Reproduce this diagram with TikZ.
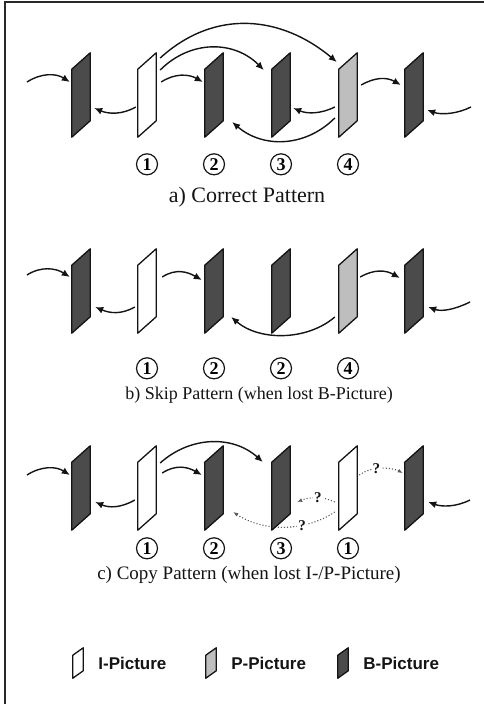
\documentclass[tikz,border=0pt]{standalone}
\usepackage{fontspec}
\setmainfont{Liberation Serif}
\newfontfamily\legendfont{Liberation Sans}
\usepackage{tikz}
\usepackage{xcolor}
\usetikzlibrary{arrows.meta, positioning, calc}
\definecolor{frameGray}{RGB}{40,40,40}
\definecolor{inkBlack}{RGB}{20,20,20}
\definecolor{bShade}{RGB}{75,75,75}
\definecolor{pShade}{RGB}{190,190,190}
\newcommand{\sheetpoly}[3]{%
    \draw[#2] (#1.north east) -- ([yshift=-#3]#1.north east) -- (#1.south west) -- ([yshift=#3]#1.south west) -- cycle;}
\tikzset{
    sheet/.style={
        rectangle,
        draw=none,
        inner sep=0pt,
        minimum width=18pt,
        minimum height=84pt
    },
    smallsheet/.style={
        rectangle,
        draw=none,
        inner sep=0pt,
        minimum width=10pt,
        minimum height=30pt
    },
    ifill/.style={draw=inkBlack, line width=1.3pt, line join=round, fill=white},
    pfill/.style={draw=inkBlack, line width=1.3pt, line join=round, fill=pShade},
    bfill/.style={draw=inkBlack, line width=1.3pt, line join=round, fill=bShade},
    numcircle/.style={
        circle,
        draw=inkBlack,
        line width=1.2pt,
        minimum size=21pt,
        inner sep=0pt,
        font=\fontsize{18}{18}\selectfont\bfseries
    },
    caption/.style={text=inkBlack, inner sep=0pt},
    legendtext/.style={inner sep=0pt, text=inkBlack, font=\legendfont\fontsize{17}{20}\selectfont\bfseries},
    flowarrow/.style={-{Latex[length=8pt, width=7pt]}, line width=1.4pt, draw=inkBlack},
    lostarrow/.style={-{Latex[length=5pt, width=4pt]}, dotted, line width=1.1pt, draw=inkBlack!70},
    qmark/.style={fill=white, inner sep=1pt, text=inkBlack, font=\fontsize{15}{15}\selectfont\bfseries}
}
\begin{document}
\begin{tikzpicture}[x=1pt, y=-1pt]
    \useasboundingbox (0,0) rectangle (484,704);
    \draw[line width=1.3pt, frameGray] (5,704) -- (5,2) -- (484,2);

    % a) correct pattern
    \node[sheet] (aB1) at (81,95) {};
    \node[sheet] (aI) at (147,95) {};
    \node[sheet] (aB2) at (214,95) {};
    \node[sheet] (aB3) at (281,95) {};
    \node[sheet] (aP) at (348,95) {};
    \node[sheet] (aB5) at (414,95) {};
    \coordinate (aInL) at (27,82);
    \coordinate (aInR) at (471,107);
    \draw[flowarrow] (aInL) .. controls +(14,-9) and +(-14,-9) .. ($(aB1.west)+(-2,-13)$);
    \draw[flowarrow] ($(aI.west)+(-2,12)$) .. controls +(-14,8) and +(14,6) .. ($(aB1.east)+(4,13)$);
    \draw[flowarrow] ($(aI.east)+(5,-13)$) .. controls +(14,-9) and +(-14,-8) .. ($(aB2.west)+(-2,-13)$);
    \draw[flowarrow] ($(aI.east)+(4,-25)$) .. controls +(30,-30) and +(-30,-30) .. ($(aB3.west)+(-8,-25)$);
    \draw[flowarrow] ($(aI.east)+(4,-37)$) .. controls +(55,-50) and +(-55,-46) .. ($(aP.west)+(-2,-33)$);
    \draw[flowarrow] ($(aP.west)+(-4,12)$) .. controls +(-14,7) and +(14,6) .. ($(aB3.east)+(3,13)$);
    \draw[flowarrow] ($(aP.west)+(-4,23)$) .. controls +(-30,30) and +(30,26) .. ($(aB2.east)+(9,27)$);
    \draw[flowarrow] ($(aP.east)+(4,-10)$) .. controls +(14,-8) and +(-14,-8) .. ($(aB5.west)+(-4,-10)$);
    \draw[flowarrow] (aInR) .. controls +(-14,7) and +(14,5) .. ($(aB5.east)+(4,15)$);
    \sheetpoly{aB1}{bfill}{68pt}
    \sheetpoly{aI}{ifill}{68pt}
    \sheetpoly{aB2}{bfill}{68pt}
    \sheetpoly{aB3}{bfill}{68pt}
    \sheetpoly{aP}{pfill}{68pt}
    \sheetpoly{aB5}{bfill}{68pt}
    \node[numcircle, below=16pt of aI] (aN1) {1};
    \node[numcircle, below=16pt of aB2] (aN2) {2};
    \node[numcircle, below=16pt of aB3] (aN3) {3};
    \node[numcircle, below=16pt of aP] (aN4) {4};
    \node[caption, font=\fontsize{22}{24}\selectfont] (capA) at (247,197) {a) Correct Pattern};

    % b) skip pattern
    \node[sheet] (bB1) at (81,291) {};
    \node[sheet] (bI) at (147,291) {};
    \node[sheet] (bB2) at (214,291) {};
    \node[sheet] (bB3) at (281,291) {};
    \node[sheet] (bP) at (348,291) {};
    \node[sheet] (bB5) at (414,291) {};
    \coordinate (bInL) at (27,275);
    \coordinate (bInR) at (470,302);
    \draw[flowarrow] (bInL) .. controls +(14,-9) and +(-14,-9) .. ($(bB1.west)+(-2,-14)$);
    \draw[flowarrow] ($(bI.west)+(-3,16)$) .. controls +(-14,8) and +(14,6) .. ($(bB1.east)+(5,16)$);
    \draw[flowarrow] ($(bI.east)+(6,-14)$) .. controls +(14,-9) and +(-14,-8) .. ($(bB2.west)+(-3,-11)$);
    \draw[flowarrow] ($(bP.west)+(-4,26)$) .. controls +(-28,24) and +(28,24) .. ($(bB2.east)+(8,26)$);
    \draw[flowarrow] ($(bP.east)+(3,-14)$) .. controls +(14,-8) and +(-14,-8) .. ($(bB5.west)+(-5,-13)$);
    \draw[flowarrow] (bInR) .. controls +(-14,7) and +(14,5) .. ($(bB5.east)+(5,16)$);
    \sheetpoly{bB1}{bfill}{68pt}
    \sheetpoly{bI}{ifill}{68pt}
    \sheetpoly{bB2}{bfill}{68pt}
    \sheetpoly{bB3}{bfill}{68pt}
    \sheetpoly{bP}{pfill}{68pt}
    \sheetpoly{bB5}{bfill}{68pt}
    \node[numcircle, below=24pt of bI] (bN1) {1};
    \node[numcircle, below=24pt of bB2] (bN2) {2};
    \node[numcircle, below=24pt of bB3] (bN3) {2};
    \node[numcircle, below=24pt of bP] (bN4) {4};
    \node[caption, font=\fontsize{18}{20}\selectfont] (capB) at (259,395) {b) Skip Pattern (when lost B-Picture)};

    % c) copy pattern
    \node[sheet] (cB1) at (81,488) {};
    \node[sheet] (cI) at (147,488) {};
    \node[sheet] (cB2) at (214,488) {};
    \node[sheet] (cB3) at (281,488) {};
    \node[sheet] (cI2) at (348,488) {};
    \node[sheet] (cB5) at (414,488) {};
    \coordinate (cInL) at (27,475);
    \coordinate (cInR) at (470,500);
    \draw[flowarrow] (cInL) .. controls +(14,-9) and +(-14,-9) .. ($(cB1.west)+(-2,-13)$);
    \draw[flowarrow] ($(cI.west)+(-3,12)$) .. controls +(-14,8) and +(14,6) .. ($(cB1.east)+(5,14)$);
    \draw[flowarrow] ($(cI.east)+(6,-15)$) .. controls +(14,-9) and +(-14,-8) .. ($(cB2.west)+(-3,-13)$);
    \draw[flowarrow] ($(cI.east)+(4,-25)$) .. controls +(30,-27) and +(-30,-27) .. ($(cB3.west)+(-9,-26)$);
    \draw[lostarrow] ($(cI2.west)+(-4,14)$) .. controls +(-12,-6) and +(12,-5) .. ($(cB3.east)+(7,14)$) node[qmark, pos=0.45] (q1) {?};
    \draw[lostarrow] ($(cI2.west)+(-4,24)$) .. controls +(-30,20) and +(30,20) .. ($(cB2.east)+(10,24)$) node[qmark, pos=0.33] (q2) {?};
    \draw[lostarrow] ($(cI2.east)+(2,-13)$) .. controls +(12,-9) and +(-12,-6) .. ($(cB5.west)+(-2,-15)$) node[qmark, pos=0.4] (q3) {?};
    \draw[flowarrow] (cInR) .. controls +(-14,7) and +(14,5) .. ($(cB5.east)+(5,14)$);
    \sheetpoly{cB1}{bfill}{68pt}
    \sheetpoly{cI}{ifill}{68pt}
    \sheetpoly{cB2}{bfill}{68pt}
    \sheetpoly{cB3}{bfill}{68pt}
    \sheetpoly{cI2}{ifill}{68pt}
    \sheetpoly{cB5}{bfill}{68pt}
    \node[numcircle, below=7pt of cI] (cN1) {1};
    \node[numcircle, below=7pt of cB2] (cN2) {2};
    \node[numcircle, below=7pt of cB3] (cN3) {3};
    \node[numcircle, below=7pt of cI2] (cN4) {1};
    \node[caption, font=\fontsize{19}{21}\selectfont] (capC) at (249,575) {c) Copy Pattern (when lost I-/P-Picture)};

    % legend
    \node[smallsheet] (legI) at (78,663) {};
    \node[smallsheet] (legP) at (211,663) {};
    \node[smallsheet] (legB) at (343,663) {};
    \sheetpoly{legI}{ifill}{23pt}
    \sheetpoly{legP}{pfill}{23pt}
    \sheetpoly{legB}{bfill}{23pt}
    \node[legendtext, right=15pt of legI] (legIt) {I-Picture};
    \node[legendtext, right=15pt of legP] (legPt) {P-Picture};
    \node[legendtext, right=15pt of legB] (legBt) {B-Picture};
\end{tikzpicture}
\end{document}
